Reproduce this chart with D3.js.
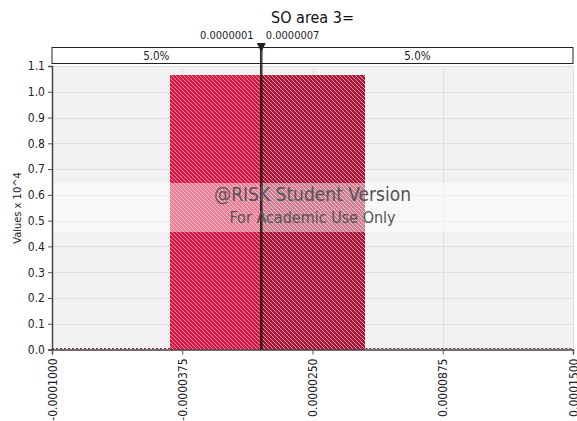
<!DOCTYPE html>
<html>
<head>
<meta charset="utf-8">
<script src="https://cdn.jsdelivr.net/npm/d3@7"></script>
<style>
  html, body { margin: 0; padding: 0; background: #fff; }
  svg { display: block; font-family: Tahoma, "DejaVu Sans Condensed", "DejaVu Sans", sans-serif; }
</style>
</head>
<body>
<svg id="chart" width="577" height="421"></svg>
<script>
// Histogram of the simulated output (density, scaled by 10^4)
const binEdges = [-0.0000435, 0.0000504];
const binDensity = [1.065];

// 5% / 95% delimiters and the probabilities shown in the band above the plot
const delimiters = [0.0000001, 0.0000007];
const delimiterLabels = ["0.0000001", "0.0000007"];
const tailPercents = ["5.0%", "5.0%"];

// Axes
const xDomain = [-0.0001, 0.00015];
const xTicks = [-0.0001, -0.0000375, 0.000025, 0.0000875, 0.00015];
const xTickLabels = ["-0.0001000", "-0.0000375", "0.0000250", "0.0000875", "0.0001500"];
const yDomain = [0, 1.1];
const yTicks = [0, 0.1, 0.2, 0.3, 0.4, 0.5, 0.6, 0.7, 0.8, 0.9, 1.0, 1.1];

const titleText = "SO area 3=";
const yAxisTitle = "Values x 10^4";
const watermark = ["@RISK Student Version", "For Academic Use Only"];

const FONT = "Tahoma, 'DejaVu Sans Condensed', 'DejaVu Sans', sans-serif";
const svg = d3.select("#chart");
const plot = { left: 52, right: 573, top: 66, bottom: 349.5 };

const x = d3.scaleLinear().domain(xDomain).range([plot.left, plot.right]);
const y = d3.scaleLinear().domain(yDomain).range([plot.bottom, plot.top]);

// Pixel hatch patterns (diagonal "\" stripes) for the two shades of the bar
const defs = svg.append("defs");
function hatch(id, base) {
  const p = defs.append("pattern")
    .attr("id", id).attr("patternUnits", "userSpaceOnUse")
    .attr("width", 4).attr("height", 4);
  p.append("rect").attr("width", 4).attr("height", 4).attr("fill", base);
  p.selectAll("rect.px").data([0, 1, 2, 3]).join("rect")
    .attr("class", "px")
    .attr("x", d => d).attr("y", d => d).attr("width", 1).attr("height", 1)
    .attr("fill", "#fff").attr("fill-opacity", 0.55)
    .attr("shape-rendering", "crispEdges");
}
hatch("hatchLeft", "#dc1640");
hatch("hatchRight", "#aa1539");

// Plot background
svg.append("rect")
  .attr("x", plot.left).attr("y", plot.top)
  .attr("width", plot.right - plot.left).attr("height", plot.bottom - plot.top)
  .attr("fill", "#f2f2f2");

// Grid
svg.append("g").selectAll("line").data(yTicks.slice(1)).join("line")
  .attr("x1", plot.left).attr("x2", plot.right)
  .attr("y1", d => Math.round(y(d)) + 0.5).attr("y2", d => Math.round(y(d)) + 0.5)
  .attr("stroke", "#e0e0e0");
svg.append("g").selectAll("line").data(xTicks.slice(1)).join("line")
  .attr("x1", d => Math.round(x(d)) + 0.5).attr("x2", d => Math.round(x(d)) + 0.5)
  .attr("y1", plot.top).attr("y2", plot.bottom)
  .attr("stroke", "#e0e0e0");

// Histogram bar, split at the delimiters
const b0 = binEdges[0], b1 = binEdges[1], h = binDensity[0];
svg.append("rect")
  .attr("x", Math.round(x(b0))).attr("y", Math.round(y(h)))
  .attr("width", Math.round(x(delimiters[0])) - Math.round(x(b0)))
  .attr("height", Math.round(y(0)) - Math.round(y(h)))
  .attr("fill", "url(#hatchLeft)").attr("shape-rendering", "crispEdges");
svg.append("rect")
  .attr("x", Math.round(x(delimiters[0]))).attr("y", Math.round(y(h)))
  .attr("width", Math.round(x(b1)) - Math.round(x(delimiters[0])))
  .attr("height", Math.round(y(0)) - Math.round(y(h)))
  .attr("fill", "url(#hatchRight)").attr("shape-rendering", "crispEdges");

// Zero-height parts of the histogram along the baseline
svg.append("g").selectAll("line").data([[xDomain[0], b0], [b1, xDomain[1]]]).join("line")
  .attr("x1", d => x(d[0])).attr("x2", d => x(d[1]))
  .attr("y1", y(0) - 1).attr("y2", y(0) - 1)
  .attr("stroke", "#a0183a").attr("stroke-width", 1.2)
  .attr("stroke-dasharray", "2,2");

// Watermark band
svg.append("rect")
  .attr("x", plot.left).attr("y", 183)
  .attr("width", plot.right - plot.left).attr("height", 49)
  .attr("fill", "#fff").attr("fill-opacity", 0.45);

// Axes
const xAxis = d3.axisBottom(x).tickValues(xTicks).tickSize(5)
  .tickFormat((d, i) => xTickLabels[i]);
const gx = svg.append("g").attr("transform", `translate(0,${plot.bottom})`).call(xAxis);
gx.select(".domain").attr("stroke", "#444").attr("stroke-width", 1.5);
gx.selectAll(".tick line").attr("stroke", "#555");
gx.selectAll(".tick text")
  .attr("transform", "rotate(-90)")
  .attr("x", -9).attr("y", 0).attr("dy", "0.35em")
  .attr("text-anchor", "end")
  .attr("font-size", 12).attr("fill", "#1e1e2e")
  .attr("font-family", FONT);

const yAxis = d3.axisLeft(y).tickValues(yTicks).tickSize(4).tickFormat(d3.format(".1f"));
const gy = svg.append("g").attr("transform", `translate(${plot.left},0)`).call(yAxis);
gy.select(".domain").attr("stroke", "#444").attr("stroke-width", 1.5);
gy.selectAll(".tick line").attr("stroke", "#555");
gy.selectAll(".tick text")
  .attr("x", -7).attr("font-size", 12).attr("fill", "#1e1e2e")
  .attr("font-family", FONT);

// Probability band above the plot
const band = { top: 47.5, bottom: 63.5 };
svg.append("rect")
  .attr("x", plot.left).attr("y", band.top)
  .attr("width", plot.right - plot.left).attr("height", band.bottom - band.top)
  .attr("fill", "#fff").attr("stroke", "#222").attr("stroke-width", 1);
const bandCenters = [(plot.left + x(delimiters[0])) / 2, (x(delimiters[1]) + plot.right) / 2];
svg.append("g").selectAll("text").data(tailPercents).join("text")
  .attr("x", (d, i) => bandCenters[i]).attr("y", 60)
  .attr("text-anchor", "middle").attr("font-size", 11.5).attr("fill", "#1e1e2e")
  .text(d => d);

// Delimiter lines and marker
svg.append("g").selectAll("line").data(delimiters).join("line")
  .attr("x1", d => x(d)).attr("x2", d => x(d))
  .attr("y1", 44).attr("y2", plot.bottom)
  .attr("stroke", "#140505").attr("stroke-opacity", 0.85).attr("stroke-width", 1.3);
const mx = x((delimiters[0] + delimiters[1]) / 2);
svg.append("path")
  .attr("d", d3.line()([[mx - 4.5, 43], [mx + 4.5, 43], [mx, 52]]) + "Z")
  .attr("fill", "#222");
svg.append("text").attr("x", x(delimiters[0]) - 7).attr("y", 39)
  .attr("text-anchor", "end").attr("font-size", 11).attr("fill", "#1e1e2e")
  .text(delimiterLabels[0]);
svg.append("text").attr("x", x(delimiters[1]) + 4).attr("y", 39)
  .attr("text-anchor", "start").attr("font-size", 11).attr("fill", "#1e1e2e")
  .text(delimiterLabels[1]);

// Watermark text
const wmx = (plot.left + plot.right) / 2;
svg.append("text").attr("x", wmx).attr("y", 201)
  .attr("text-anchor", "middle").attr("font-size", 19).attr("fill", "#555")
  .text(watermark[0]);
svg.append("text").attr("x", wmx).attr("y", 223)
  .attr("text-anchor", "middle").attr("font-size", 16).attr("fill", "#555")
  .text(watermark[1]);

// Title and y-axis title
svg.append("text").attr("x", wmx).attr("y", 23)
  .attr("text-anchor", "middle").attr("font-size", 16).attr("fill", "#111")
  .text(titleText);
svg.append("text")
  .attr("transform", "translate(21,208) rotate(-90)")
  .attr("text-anchor", "middle").attr("font-size", 11).attr("fill", "#1e1e2e")
  .text(yAxisTitle);
</script>
</body>
</html>
